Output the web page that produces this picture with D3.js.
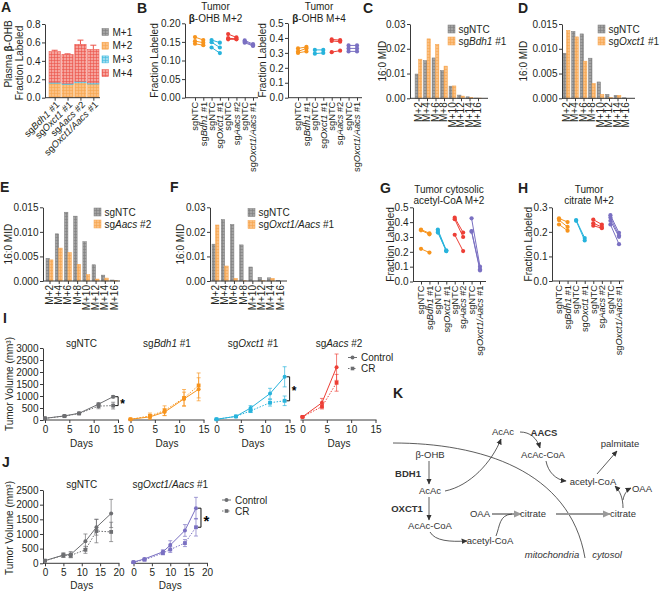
<!DOCTYPE html>
<html><head><meta charset="utf-8">
<script src="https://cdn.jsdelivr.net/npm/d3@7"></script>
<style>
body{margin:0;background:#fff}
svg{font-family:"Liberation Sans",Arial,sans-serif}
</style></head><body>
<svg id="c" width="660" height="592"></svg>
<script>
// ================= DATA =================
// Panel A
const aGroups = ["sg*Bdh1* #1","sg*Oxct1* #1","sg*Aacs* #2","sg*Oxct1/Aacs* #1"];
const aSeries = ["M+1","M+2","M+3","M+4"];
const aM1 = [0.005,0.005,0.006,0.005];
const aM2 = [0.150,0.138,0.155,0.143];
const aM3 = [0.012,0.012,0.015,0.013];
const aM4 = [0.333,0.315,0.404,0.364];
const aErr = [0.015,0.006,0.045,0.045];
const aTicks = [0,0.2,0.4,0.6,0.8];
// Panel B / G / H
const pairLabels = ["sgNTC","sg*Bdh1* #1","sgNTC","sg*Oxct1* #1","sgNTC","sg*Aacs* #2","sgNTC","sg*Oxct1/Aacs* #1"];
const bM2 = [
  [[0.163,0.155],[0.152,0.148],[0.145,0.141]],
  [[0.155,0.148],[0.149,0.135],[0.135,0.120]],
  [[0.171,0.162],[0.160,0.158],[0.157,0.157]],
  [[0.154,0.144],[0.151,0.141],[0.148,0.139]]
];
const bM2Ticks = [0,0.05,0.10,0.15,0.20];
const bM4 = [
  [[0.33,0.34],[0.31,0.33],[0.30,0.31]],
  [[0.32,0.32],[0.295,0.30]],
  [[0.39,0.385],[0.38,0.375],[0.305,0.315]],
  [[0.35,0.35],[0.33,0.33],[0.31,0.31]]
];
const bM4Ticks = [0,0.1,0.2,0.3,0.4,0.5];
const gAcCoA = [
  [[0.35,0.325],[0.345,0.318],[0.22,0.195]],
  [[0.35,0.21],[0.34,0.205],[0.33,0.205]],
  [[0.43,0.33],[0.42,0.30],[0.315,0.205]],
  [[0.426,0.10],[0.34,0.083],[0.336,0.074]]
];
const gTicks = [0,0.1,0.2,0.3,0.4,0.5];
const hCitrate = [
  [[0.255,0.24],[0.248,0.22],[0.23,0.205]],
  [[0.248,0.175],[0.245,0.165]],
  [[0.25,0.23],[0.235,0.22],[0.225,0.215]],
  [[0.268,0.196],[0.258,0.185],[0.245,0.18],[0.23,0.15]]
];
const hTicks = [0,0.1,0.2,0.3];
// Panels C-F (16:0 MID)
const midLabels = ["M+2","M+4","M+6","M+8","M+10","M+12","M+14","M+16"];
const cNTC  = [0.0098,0.0152,0.0163,0.0112,0.0049,0.0013,0.0006,0.0001];
const cBdh1 = [0.0158,0.0240,0.0218,0.0130,0.0050,0.0009,0.0004,0.0001];
const cTicks = [0,0.01,0.02,0.03];
const dNTC   = [0.0091,0.0135,0.0130,0.0081,0.0033,0.0008,0.0006,0.0001];
const dOxct1 = [0.0137,0.0124,0.0075,0.0030,0.0008,0.0002,0.0006,0.0000];
const dTicks = [0,0.005,0.010,0.015];
const eNTC  = [0.0046,0.0096,0.0140,0.0132,0.0080,0.0033,0.0012,0.0002];
const eAacs = [0.0043,0.0067,0.0058,0.0034,0.0013,0.0004,0.0006,0.0001];
const eTicks = [0,0.005,0.010,0.015];
const fNTC = [0.0150,0.0250,0.0230,0.0147,0.0057,0.0015,0.0013,0.0003];
const fDKO = [0.0228,0.0061,0.0011,0.0001,0.0000,0.0001,0.0011,0.0000];
const fTicks = [0,0.01,0.02,0.03];
// Panel I (tumor volume)
const iTitles = ["sgNTC","sg*Bdh1* #1","sg*Oxct1* #1","sg*Aacs* #2"];
const iDays = [0,4,7,11,14];
const iDaysAacs = [0,4,7];
const iNTCCtl = [70,170,280,660,970],   iNTCCtlErr = [15,30,40,60,50];
const iNTCCR  = [70,160,270,580,600],   iNTCCRErr  = [15,30,40,110,140];
const iBdhCtl = [30,130,330,880,1280],  iBdhCtlErr = [10,100,150,280,480];
const iBdhCR  = [30,170,390,920,1440],  iBdhCRErr  = [10,120,200,350,520];
const iOxCtl  = [30,150,500,1100,1800], iOxCtlErr  = [10,30,100,220,420];
const iOxCR   = [30,150,380,720,800],   iOxCRErr   = [10,30,70,140,200];
const iAaCtl  = [130,720,2200],         iAaCtlErr  = [20,180,550];
const iAaCR   = [130,560,1550],         iAaCRErr   = [20,100,350];
const iYTicks = [0,500,1000,1500,2000,2500,3000];
const iXTicks = [0,5,10,15];
// Panel J
const jTitles = ["sgNTC","sg*Oxct1/Aacs* #1"];
const jDaysNTC = [0,5,7,11,14,18];
const jDaysDKO = [0,3,8,10,14,17];
const jNTCCtl = [90,280,300,750,1230,1700], jNTCCtlErr = [20,80,100,250,270,480];
const jNTCCR  = [90,270,270,460,1100,1070], jNTCCRErr  = [20,60,80,120,400,330];
const jDKOCtl = [40,150,390,620,1120,1880], jDKOCtlErr = [10,30,70,150,200,370];
const jDKOCR  = [40,120,350,470,690,1230],  jDKOCRErr  = [10,30,60,100,120,300];
const jYTicks = [0,500,1000,1500,2000,2500];
const jXTicks = [0,5,10,15,20];
const legendNames = ["Control","CR"];

// ================= SETUP =================
const svg = d3.select("#c");
const defs = svg.append("defs");
const TXT = "#231f20", AX = "#3a3a3a";
const C_OR="#f7941d", C_CY="#27b3dc", C_RD="#ed3f36", C_PU="#7a70c2", C_GR="#6d6e71";
const grpColors = [C_OR, C_CY, C_RD, C_PU];

function pattern(id,bg,line){
  const p = defs.append("pattern").attr("id",id).attr("patternUnits","userSpaceOnUse").attr("width",3).attr("height",3);
  p.append("rect").attr("width",3).attr("height",3).attr("fill",bg);
  p.append("path").attr("d","M0,0.5H3M0.5,0V3").attr("stroke",line).attr("stroke-width",0.6);
}
pattern("pGray","#a3a3a3","#7d7d7d");
pattern("pOr","#fbc083","#f7a54e");
pattern("pCy","#9fdcef","#40badf");
pattern("pRd","#f6a39c","#eb5248");

function marker(id,color,size){
  defs.append("marker").attr("id",id).attr("viewBox","0 0 10 10").attr("refX",9).attr("refY",5)
    .attr("markerUnits","userSpaceOnUse").attr("markerWidth",size).attr("markerHeight",size).attr("orient","auto")
    .append("path").attr("d","M0,0.5L10,5L0,9.5z").attr("fill",color);
}
marker("arr","#333",6);
marker("arrG","#9a9a9a",8);

function rich(t,str){
  str.split(/(\*[^*]+\*|\^[^^]+\^)/).forEach(s=>{
    if(!s) return;
    const sp = t.append("tspan");
    if(s.length>2 && s[0]==="*" && s[s.length-1]==="*") sp.attr("font-style","italic").text(s.slice(1,-1));
    else if(s.length>2 && s[0]==="^" && s[s.length-1]==="^") sp.attr("font-weight","bold").text(s.slice(1,-1));
    else sp.text(s);
  });
}
function txt(x,y,str,o={}){
  const t = svg.append("text").attr("x",x).attr("y",y).attr("font-size",o.size||10)
    .attr("fill",o.fill||TXT).attr("text-anchor",o.anchor||"middle");
  if(o.bold) t.attr("font-weight","bold");
  if(o.italic) t.attr("font-style","italic");
  if(o.dy) t.attr("dy",o.dy);
  rich(t,str);
  if(o.rotate!=null) t.attr("transform",`rotate(${o.rotate},${x},${y})`);
  return t;
}
function styleAxis(g){
  g.selectAll("path,line").attr("stroke",AX).attr("stroke-width",1);
  g.selectAll("text").attr("font-size",10).attr("fill",TXT).attr("font-family","Liberation Sans, Arial, sans-serif");
}
function yAxis(x,scale,ticks,fmt){
  const g = svg.append("g").attr("transform",`translate(${x},0)`)
    .call(d3.axisLeft(scale).tickValues(ticks).tickFormat(fmt).tickSize(3).tickSizeOuter(0));
  styleAxis(g); g.selectAll(".tick text").attr("x",-4.5);
  return g;
}
function hline(x1,x2,y){
  svg.append("line").attr("x1",x1).attr("x2",x2).attr("y1",y).attr("y2",y).attr("stroke",AX).attr("stroke-width",1);
}
function xTicks(scale,vals,y){
  const g = svg.append("g").attr("transform",`translate(0,${y})`)
    .call(d3.axisBottom(scale).tickValues(vals).tickFormat("").tickSize(3).tickSizeOuter(0));
  g.select(".domain").remove(); styleAxis(g);
}
function letter(x,y,l){ txt(x,y,l,{size:14,bold:true,anchor:"start"}); }

// ================= PANEL A =================
letter(1,12,"A");
const aY = d3.scaleLinear().domain([0,0.8]).range([97.7,24]);
const aX = d3.scaleBand().domain(d3.range(aGroups.length)).range([49,99]).paddingInner(0.12);
const aRows = aGroups.map((g,i)=>({M1:aM1[i],M2:aM2[i],M3:aM3[i],M4:aM4[i]}));
const aKeys = ["M1","M2","M3","M4"];
const aStack = d3.stack().keys(aKeys)(aRows);
const aPat = ["url(#pGray)","url(#pOr)","url(#pCy)","url(#pRd)"];
const aStroke = ["#7d7d7d","#f7a54e","#40badf","#eb5248"];
aStack.forEach((layer,k)=>{
  svg.append("g").selectAll("rect").data(layer).join("rect")
    .attr("x",(d,i)=>aX(i)).attr("width",aX.bandwidth())
    .attr("y",d=>aY(d[1])).attr("height",d=>aY(d[0])-aY(d[1]))
    .attr("fill",aPat[k]).attr("stroke",aStroke[k]).attr("stroke-width",0.5);
});
aStack[3].forEach((d,i)=>{
  const cx = aX(i)+aX.bandwidth()/2, top = d[1];
  svg.append("path").attr("d",`M${cx},${aY(top)}V${aY(top+aErr[i])}M${cx-3},${aY(top+aErr[i])}H${cx+3}`)
    .attr("stroke","#eb5248").attr("fill","none").attr("stroke-width",1);
});
yAxis(45,aY,aTicks,d3.format(".1f"));
hline(45,100,97.7);
const aXp = d3.scalePoint().domain(d3.range(4)).range([aX(0)+aX.bandwidth()/2, aX(3)+aX.bandwidth()/2]);
xTicks(aXp,d3.range(4),97.7);
aGroups.forEach((g,i)=>txt(aXp(i)+2,102,g,{anchor:"end",rotate:-45,dy:"0.5em",size:9.5}));
txt(11.5,54,"Plasma ^β^-OHB",{rotate:-90});
txt(22.5,63,"Fraction Labeled",{rotate:-90});
aSeries.forEach((s,k)=>{
  const cy = 32 + k*13.7;
  svg.append("rect").attr("x",102).attr("y",cy-3.5).attr("width",6.5).attr("height",7)
    .attr("fill",aPat[k]).attr("stroke",aStroke[k]).attr("stroke-width",0.5);
  txt(112.5,cy+3.6,s,{anchor:"start"});
});

// ================= PAIRED PANELS (B, G, H) =================
function pairedPanel(o){
  const y = d3.scaleLinear().domain([0,o.ymax]).range(o.yr);
  const x = d3.scalePoint().domain(d3.range(8)).range(o.xr);
  yAxis(o.ax,y,o.ticks,d3.format(o.fmt));
  hline(o.ax,o.xend,o.yr[0]);
  xTicks(x,d3.range(8),o.yr[0]);
  o.data.forEach((grp,g)=>{
    grp.forEach(p=>{
      const x1 = x(2*g), x2 = x(2*g+1);
      svg.append("line").attr("x1",x1).attr("x2",x2).attr("y1",y(p[0])).attr("y2",y(p[1]))
        .attr("stroke",grpColors[g]).attr("stroke-width",1);
      [[x1,p[0]],[x2,p[1]]].forEach(q=>svg.append("circle").attr("cx",q[0]).attr("cy",y(q[1])).attr("r",2.1).attr("fill",grpColors[g]));
    });
  });
  pairLabels.forEach((l,i)=>txt(x(i),o.yr[0]+4,l,{anchor:"end",rotate:-90,dy:"0.35em",size:9.3}));
  o.title.forEach((t,i)=>txt(o.tx,o.ty+i*11.5,t));
  txt(o.ylx,(o.yr[0]+o.yr[1])/2,"Fraction Labeled",{rotate:-90});
}
letter(137,13,"B");
pairedPanel({ax:185,ymax:0.2,yr:[97.7,23.3],xr:[195,253],xend:258,ticks:bM2Ticks,fmt:".2f",data:bM2,
  title:["Tumor","^β^-OHB M+2"],tx:215.5,ty:10,ylx:157.5});
pairedPanel({ax:288,ymax:0.5,yr:[97.7,23],xr:[298,357],xend:362,ticks:bM4Ticks,fmt:".1f",data:bM4,
  title:["Tumor","^β^-OHB M+4"],tx:319,ty:10,ylx:266});
letter(380,193,"G");
pairedPanel({ax:413,ymax:0.5,yr:[281.5,207.3],xr:[421,480],xend:486,ticks:gTicks,fmt:".1f",data:gAcCoA,
  title:["Tumor cytosolic","acetyl-CoA M+2"],tx:449,ty:192.5,ylx:394.5});
letter(518,193,"H");
pairedPanel({ax:552,ymax:0.3,yr:[281,207.3],xr:[559,619],xend:624,ticks:hTicks,fmt:".1f",data:hCitrate,
  title:["Tumor","citrate M+2"],tx:589,ty:192.5,ylx:532.5});

// ================= MID PANELS (C-F) =================
function midPanel(o){
  const y = d3.scaleLinear().domain([0,o.ymax]).range(o.yr);
  const x = d3.scalePoint().domain(d3.range(midLabels.length)).range(o.xr);
  const bw = o.bw;
  [[o.a,"url(#pGray)","#7d7d7d",-bw],[o.b,"url(#pOr)","#f7a54e",0]].forEach(([vals,fill,st,off])=>{
    svg.append("g").selectAll("rect").data(vals).join("rect")
      .attr("x",(d,i)=>x(i)+off).attr("width",bw)
      .attr("y",d=>y(d)).attr("height",d=>o.yr[0]-y(d))
      .attr("fill",fill).attr("stroke",st).attr("stroke-width",0.5);
  });
  yAxis(o.ax,y,o.ticks,d3.format(o.fmt));
  hline(o.ax,o.xend,o.yr[0]);
  xTicks(x,d3.range(midLabels.length),o.yr[0]);
  midLabels.forEach((l,i)=>txt(x(i),o.yr[0]+4,l,{anchor:"end",rotate:-90,dy:"0.35em"}));
  txt(o.ylx,(o.yr[0]+o.yr[1])/2,"16:0 MID",{rotate:-90});
  [["url(#pGray)","#7d7d7d","sgNTC"],["url(#pOr)","#f7a54e",o.bName]].forEach(([f,s,n],k)=>{
    const cy = o.ly + k*12;
    svg.append("rect").attr("x",o.lx).attr("y",cy-4).attr("width",7).attr("height",8)
      .attr("fill",f).attr("stroke",s).attr("stroke-width",0.5);
    txt(o.lx+10.5,cy+3.6,n,{anchor:"start"});
  });
}
letter(363,13,"C");
midPanel({ax:410,ymax:0.03,yr:[98.3,24],xr:[418.5,478],xend:488,bw:3.4,a:cNTC,b:cBdh1,ticks:cTicks,fmt:".2f",
  ylx:386,lx:448,ly:29,bName:"sg*Bdh1* #1"});
letter(518,13,"D");
midPanel({ax:562,ymax:0.015,yr:[98.3,24],xr:[566.5,626],xend:635,bw:3.4,a:dNTC,b:dOxct1,ticks:dTicks,fmt:".3f",
  ylx:527,lx:598,ly:29,bName:"sg*Oxct1* #1"});
letter(0,192,"E");
midPanel({ax:43,ymax:0.015,yr:[281,207.3],xr:[49.5,114],xend:120,bw:3.5,a:eNTC,b:eAacs,ticks:eTicks,fmt:".3f",
  ylx:12,lx:94,ly:212,bName:"sg*Aacs* #2"});
letter(170,192,"F");
midPanel({ax:210,ymax:0.03,yr:[281,207.3],xr:[215.5,280],xend:287,bw:3.5,a:fNTC,b:fDKO,ticks:fTicks,fmt:".2f",
  ylx:184,lx:248,ly:212.5,bName:"sg*Oxct1/Aacs* #1"});

// ================= GROWTH PANELS (I, J) =================
function series(xs,y,days,vals,errs,color,cr){
  const pts = days.map((d,i)=>[xs(d),y(vals[i])]);
  days.forEach((d,i)=>{
    const cx = xs(d);
    svg.append("path").attr("d",`M${cx},${y(vals[i]-errs[i])}V${y(vals[i]+errs[i])}M${cx-2},${y(vals[i]+errs[i])}H${cx+2}M${cx-2},${y(vals[i]-errs[i])}H${cx+2}`)
      .attr("stroke",color).attr("stroke-width",0.8).attr("fill","none").attr("opacity",0.85);
  });
  svg.append("path").attr("d",d3.line()(pts)).attr("fill","none").attr("stroke",color).attr("stroke-width",1)
    .attr("stroke-dasharray",cr?"1.5,1.5":null);
  pts.forEach(p=>{
    if(cr) svg.append("rect").attr("x",p[0]-1.9).attr("y",p[1]-1.9).attr("width",3.8).attr("height",3.8).attr("fill",color);
    else svg.append("circle").attr("cx",p[0]).attr("cy",p[1]).attr("r",2).attr("fill",color);
  });
}
function bracket(x,y1,y2,star,sx,size){
  svg.append("path").attr("d",`M${x-3},${y1}H${x}V${y2}H${x-3}`).attr("fill","none").attr("stroke","#111").attr("stroke-width",1);
  txt(sx,(y1+y2)/2+size*0.55,star,{size:size,bold:true,fill:"#000"});
}
function growth(o){
  const xs = d3.scaleLinear().domain([0,o.xmax]).range([o.x0,o.x0+o.w]);
  const g = svg.append("g").attr("transform",`translate(0,${o.y.range()[0]})`)
    .call(d3.axisBottom(xs).tickValues(o.xt).tickSize(3).tickSizeOuter(0));
  styleAxis(g);
  g.select(".domain").attr("d",`M${o.x0-2},0H${o.x0+o.w+1}`);
  g.selectAll(".tick text").attr("y",5.5);
  txt(o.x0+o.w/2,o.y.range()[0]+o.daysDy,"Days");
  txt(o.x0+o.w/2,o.ty,o.title);
  series(xs,o.y,o.days,o.cr,o.crE,o.color,true);
  series(xs,o.y,o.days,o.ctl,o.ctlE,o.color,false);
  return xs;
}
function legendGrowth(x,y){
  legendNames.forEach((n,k)=>{
    const cy = y + k*11;
    svg.append("line").attr("x1",x).attr("x2",x+9).attr("y1",cy).attr("y2",cy).attr("stroke",C_GR).attr("stroke-width",1)
      .attr("stroke-dasharray",k?"1.5,1.5":null);
    if(k) svg.append("rect").attr("x",x+2.7).attr("y",cy-1.8).attr("width",3.6).attr("height",3.6).attr("fill",C_GR);
    else svg.append("circle").attr("cx",x+4.5).attr("cy",cy).attr("r",2).attr("fill",C_GR);
    txt(x+13,cy+3.6,n,{anchor:"start"});
  });
}
letter(3,323,"I");
const iY = d3.scaleLinear().domain([0,3000]).range([420,348]);
yAxis(43,iY,iYTicks,d3.format("d"));
txt(12.5,384,"Tumor Volume (mm³)",{rotate:-90});
const iX0 = [45,130.5,216.5,302.5];
const iSets = [
  [iDays,iNTCCtl,iNTCCtlErr,iNTCCR,iNTCCRErr,C_GR],
  [iDays,iBdhCtl,iBdhCtlErr,iBdhCR,iBdhCRErr,C_OR],
  [iDays,iOxCtl,iOxCtlErr,iOxCR,iOxCRErr,C_CY],
  [iDaysAacs,iAaCtl,iAaCtlErr,iAaCR,iAaCRErr,C_RD]
];
const iXs = iSets.map((s,k)=>growth({x0:iX0[k],w:73,xmax:15,xt:iXTicks,y:iY,daysDy:27,title:iTitles[k],ty:347,
  days:s[0],ctl:s[1],ctlE:s[2],cr:s[3],crE:s[4],color:s[5]}));
bracket(iXs[0](14)+5,iY(iNTCCtl[4]),iY(iNTCCR[4]),"*",iXs[0](14)+9.5,12);
bracket(iXs[2](14)+5,iY(iOxCtl[4]),iY(iOxCR[4]),"*",iXs[2](14)+9.5,12);
legendGrowth(348,357.5);

letter(2,467,"J");
const jY = d3.scaleLinear().domain([0,2500]).range([563.3,490]);
yAxis(43,jY,jYTicks,d3.format("d"));
txt(12.5,528,"Tumor Volume (mm³)",{rotate:-90});
const jX0 = [45,133.5];
const jSets = [
  [jDaysNTC,jNTCCtl,jNTCCtlErr,jNTCCR,jNTCCRErr,C_GR],
  [jDaysDKO,jDKOCtl,jDKOCtlErr,jDKOCR,jDKOCRErr,C_PU]
];
const jXs = jSets.map((s,k)=>growth({x0:jX0[k],w:73.5,xmax:20,xt:jXTicks,y:jY,daysDy:26,title:jTitles[k],ty:488,
  days:s[0],ctl:s[1],ctlE:s[2],cr:s[3],crE:s[4],color:s[5]}));
bracket(jXs[1](17)+5,jY(jDKOCtl[5]),jY(jDKOCR[5]),"*",jXs[1](17)+10.5,15);
legendGrowth(222,500);

// ================= PANEL K (pathway diagram) =================
letter(393,398,"K");
const kNodes = [
  ["AcAc",503,435],["^AACS^",544,436],["AcAc-CoA",543,457.5],["palmitate",620,446.5],
  ["acetyl-CoA",593,485],["OAA",642,491.5],["citrate",623,517],
  ["β-OHB",430,458],["^BDH1^",408,476.5],["AcAc",430,494],["^OXCT1^",407,511.5],
  ["AcAc-CoA",430,529],["OAA",480,517],["citrate",533,517],["acetyl-CoA",490,544],
  ["*mitochondria*",552,557.5],["*cytosol*",607,557.5]
];
const kArrows = [
  "M429,461V484","M429,497V520",
  "M445,491C470,486 492,462 501,439",
  "M520,432C530,432 537,438 540,448",
  "M546,461C548,472 556,480 566,481",
  "M597,474L617,451",
  "M623,508C623,498 620,491 615,486",
  "M623,500C624,494 627,490 631,488",
  "M430,532C435,541 450,542 467,541"
];
const kThick = ["M492,514H521","M556,514H610"];
svg.append("path").attr("d","M393,443C480,443 570,470 585,558").attr("fill","none").attr("stroke","#333").attr("stroke-width",0.8);
kThick.forEach(d=>svg.append("path").attr("d",d).attr("stroke","#9a9a9a").attr("stroke-width",2).attr("fill","none").attr("marker-end","url(#arrG)"));
svg.append("path").attr("d","M496,536C500,526 499,515 512,514").attr("fill","none").attr("stroke","#333").attr("stroke-width",0.8);
kArrows.forEach(d=>svg.append("path").attr("d",d).attr("fill","none").attr("stroke","#333").attr("stroke-width",0.8).attr("marker-end","url(#arr)"));
kNodes.forEach(n=>txt(n[1],n[2],n[0],{size:9.5,fill:"#333"}));
</script>
</body></html>
